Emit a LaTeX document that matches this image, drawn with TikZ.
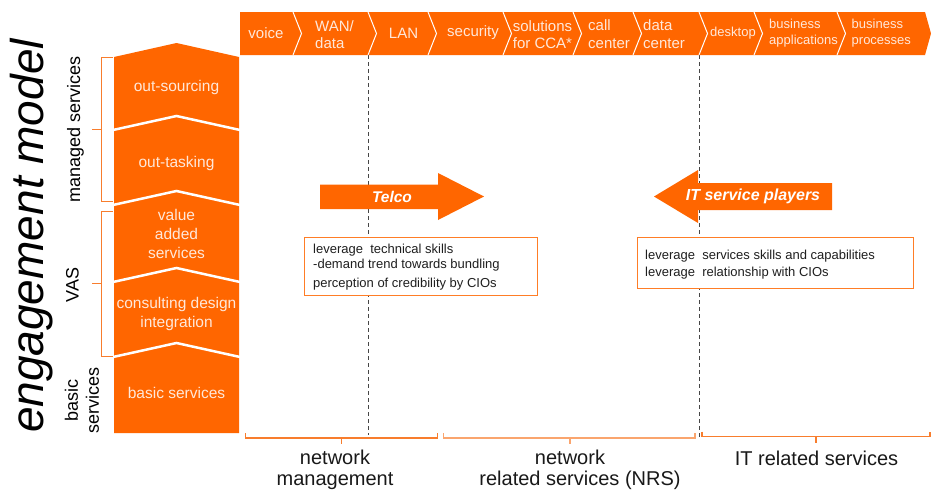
\documentclass[tikz,border=0pt]{standalone}
\usepackage{fontspec}
\setmainfont{Liberation Sans}
\definecolor{brand}{RGB}{255,102,0}
\definecolor{ontxt}{RGB}{255,232,218}
\definecolor{brk}{RGB}{248,125,45}
\definecolor{brklight}{RGB}{250,165,110}
\definecolor{guidegray}{RGB}{70,70,70}
\newcommand\fsz[2]{\fontsize{#1}{#2}\selectfont}

\begin{document}
\begin{tikzpicture}[x=1pt,y=-1pt,
  barlbl/.style={text=ontxt, font=\fsz{15}{17.6}, align=left, inner sep=0},
  barsmall/.style={text=ontxt, font=\fsz{13}{15.7}, align=left, inner sep=0},
  collbl/.style={text=ontxt, font=\fsz{15.5}{19}, align=center, inner sep=0},
  sidelbl/.style={font=\fsz{18}{21}, rotate=90, align=center, inner sep=0},
  barsep/.style={draw=white, line width=1pt},
  colsep/.style={draw=white, line width=2.5pt},
  guide/.style={draw=guidegray, line width=0.9pt, dash pattern=on 4pt off 3pt},
  brace/.style={draw=brk, line width=1.1pt},
  bracelight/.style={draw=brklight, line width=1.1pt},
  notebox/.style={draw=brand!85, line width=0.8pt, fill=white, inner sep=0},
  notetxt/.style={font=\fsz{13}{15}, align=left, inner sep=0, text=black!88},
  arrowlbl/.style={text=white, font=\fsz{15.5}{18}\bfseries\itshape, inner sep=0},
  bottomlbl/.style={font=\fsz{20}{20.5}, align=center, inner sep=0, text=black!90},
]
\fill[white] (0,0) rectangle (931,490);
\useasboundingbox (0,0) rectangle (931,490);

% dashed guide lines
\coordinate (g1t) at (368,55);  \coordinate (g1b) at (368,435);
\coordinate (g2t) at (699,55);  \coordinate (g2b) at (699,437);
\draw[guide] (g1t) -- (g1b);
\draw[guide] (g2t) -- (g2b);

% top band of service domains
\fill[brand] (240,12) -- (925,12) -- (931,33.5) -- (925,55) -- (240,55) -- cycle;
\foreach \t in {293,368,428,503,573,633,699,754,837}
  \draw[barsep] (\t,12) -- (\t+8.5,33.5) -- (\t,55);

\node[barlbl] (voice) at (266,33) {voice};
\node[barlbl, anchor=west] (wan) at (315,34.5) {WAN/\\data};
\node[barlbl] (lan) at (403.5,33) {LAN};
\node[barlbl] (sec) at (473,33) {security};
\node[barlbl, anchor=west] (cca) at (512.7,34.5) {solutions\\for CCA*};
\node[barlbl, anchor=west] (call) at (588,34) {call\\center};
\node[barlbl, anchor=west] (dc) at (643,34) {data\\center};
\node[barsmall] (desk) at (733,33) {desktop};
\node[barsmall, anchor=west] (bapp) at (769,33) {business\\applications};
\node[barsmall, anchor=west] (bproc) at (851.5,33) {business\\processes};

% stacked engagement column
\fill[brand] (114,57) -- (176.5,43) -- (239,57) -- (239,433) -- (114,433) -- cycle;
\foreach \y in {130,205,282,357}
  \draw[colsep] (113,\y) -- (176.5,\y-14) -- (240,\y);

\node[collbl] (outs) at (176.5,87) {out-sourcing};
\node[collbl] (outt) at (176.5,163) {out-tasking};
\node[collbl] (vas) at (176.5,234) {value\\added\\services};
\node[collbl] (cdi) at (176.5,314) {consulting design\\integration};
\node[collbl] (basic) at (176.5,393) {basic services};

% side brackets
\draw[brace] (112.5,57.3) -- (101.7,57.3) -- (101.7,201.7) -- (112.5,201.7);
\draw[brace] (101.7,129.3) -- (91.7,129.3);
\draw[brace] (112.5,211.5) -- (101.7,211.5) -- (101.7,356.7) -- (112.5,356.7);
\draw[brace] (101.7,283.5) -- (91.7,283.5);

\node[sidelbl, anchor=base] (msl) at (80,129.5) {managed services};
\node[sidelbl, anchor=base] (vasl) at (78.5,285) {VAS};
\node[sidelbl] (bsl) at (82,400) {basic\\services};
\node[rotate=90, anchor=base, inner sep=0, font=\fsz{46}{50}\itshape] (title) at (43,236) {engagement model};

% competitor arrows
\fill[brand] (320,184.5) -- (438,184.5) -- (438,173) -- (484,196.5) -- (438,220) -- (438,209) -- (320,209) -- cycle;
\node[arrowlbl] (telco) at (392,196.5) {Telco};
\fill[brand] (832,183) -- (698,183) -- (698,170) -- (654,196.5) -- (698,223) -- (698,210) -- (832,210) -- cycle;
\node[arrowlbl, font=\fsz{16}{18}\bfseries\itshape] (itsp) at (753,196.5) {IT service players};

% note boxes
\node[notebox, minimum width=233, minimum height=58] (box1) at (420.5,266) {};
\node[notetxt, anchor=west] (t1) at (313,267) {leverage~~technical skills\\-demand trend towards bundling\\[3.7pt]perception of credibility by CIOs};
\node[notebox, minimum width=276, minimum height=51] (box2) at (775,262.5) {};
\node[notetxt, anchor=west, font=\fsz{13}{17}] (t2) at (645,265) {leverage~~services skills and capabilities\\leverage~~relationship with CIOs};

% bottom brackets
\draw[brace] (245.7,433) -- (245.7,438) -- (437.3,438) -- (437.3,433);
\draw[brace] (341.7,438) -- (341.7,444);
\draw[bracelight] (443.3,433) -- (443.3,438) -- (695,438) -- (695,433);
\draw[bracelight] (570,438) -- (570,444);
\draw[brace] (702,431.7) -- (702,436.7) -- (930,436.7) -- (930,431.7);
\draw[brace] (816,436.7) -- (816,442.7);

\node[bottomlbl] (nm) at (335,470) {network\\management};
\node[bottomlbl] (nrs) at (580,470) {network\phantom{xx}\\related services (NRS)};
\node[bottomlbl, anchor=base] (itr) at (816.5,465) {IT related services};
\end{tikzpicture}
\end{document}
